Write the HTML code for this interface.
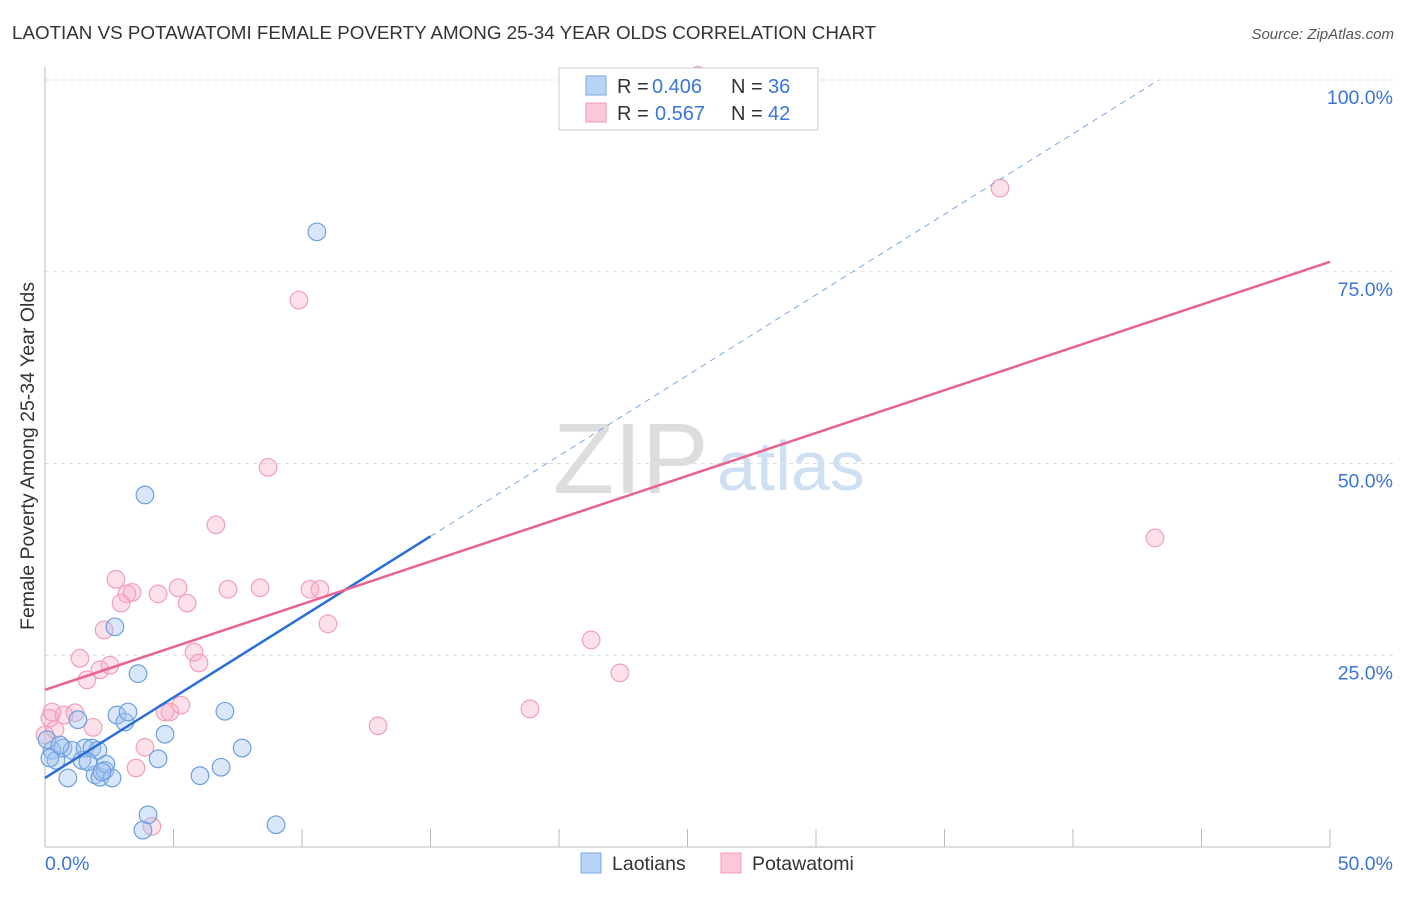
<!DOCTYPE html>
<html><head><meta charset="utf-8"><style>
body{margin:0;background:#fff;font-family:"Liberation Sans",sans-serif}
svg text{font-family:"Liberation Sans",sans-serif}
</style></head><body>
<svg id="c" width="1406" height="892" viewBox="0 0 1406 892">
<text x="12" y="39" font-size="18.8" fill="#333">LAOTIAN VS POTAWATOMI FEMALE POVERTY AMONG 25-34 YEAR OLDS CORRELATION CHART</text>
<text x="1394" y="39" font-size="15" fill="#555" font-style="italic" text-anchor="end">Source: ZipAtlas.com</text>
<g>
<text x="553" y="493" font-size="100" font-family="Liberation Serif" fill="#ddd">ZIP</text>
<text x="717" y="490" font-size="70" fill="#cfe0f3">atlas</text>
</g>
<g id="grid"></g>
<g id="marks"></g>
<text transform="translate(34,456) rotate(-90)" font-size="19.5" fill="#333" text-anchor="middle">Female Poverty Among 25-34 Year Olds</text>
<g>
<rect x="559" y="68" width="259" height="62" fill="#fff" stroke="#ccc"/>
<rect x="586" y="76" width="20" height="19" fill="#b8d3f5" stroke="#7aa7e6"/>
<rect x="586" y="103" width="20" height="19" fill="#fcc8d8" stroke="#f09ab4"/>
<text x="617" y="93" font-size="20" fill="#333">R =</text>
<text x="652" y="93" font-size="20" fill="#3a76d8">0.406</text>
<text x="731" y="93" font-size="20" fill="#333">N =</text>
<text x="768" y="93" font-size="20" fill="#3a76d8">36</text>
<text x="617" y="120" font-size="20" fill="#333">R =</text>
<text x="655" y="120" font-size="20" fill="#3a76d8">0.567</text>
<text x="731" y="120" font-size="20" fill="#333">N =</text>
<text x="768" y="120" font-size="20" fill="#3a76d8">42</text>
</g>
<g>
<rect x="581" y="853" width="20" height="20" fill="#b8d3f5" stroke="#7aa7e6"/>
<text x="612" y="870" font-size="19.5" fill="#333">Laotians</text>
<rect x="721" y="853" width="20" height="20" fill="#fcc8d8" stroke="#f09ab4"/>
<text x="752" y="870" font-size="19.5" fill="#333">Potawatomi</text>
</g>
</svg>
<script>
const blueX=[.27,.43,.70,.89,1.05,1.28,1.44,1.56,1.83,1.95,2.06,2.14,2.33,2.37,2.61,2.72,2.80,3.11,3.23,3.62,3.89,4.01,3.81,4.40,4.67,6.03,6.85,7.00,7.67,8.99,10.58,.19,.08,.58,1.67,2.22];
const blueY=[12.6,11.3,12.9,9.0,12.6,16.6,11.3,12.9,12.9,9.4,12.6,9.1,10.0,10.8,9.0,28.7,17.2,16.3,17.6,22.6,45.9,4.2,2.2,11.5,14.7,9.3,10.4,17.7,12.9,2.9,80.2,11.6,14.0,13.3,11.1,9.8];
const pinkX=[.19,.39,.74,1.17,1.36,1.63,1.87,2.14,2.30,2.53,2.76,2.96,3.19,3.39,3.54,3.89,4.16,4.40,4.67,4.86,5.18,5.29,5.53,5.80,5.99,6.65,7.12,8.37,8.68,9.88,10.31,10.70,11.01,12.96,18.87,21.25,22.37,37.16,43.19,0,.27,25.4];
const pinkY=[16.8,15.3,17.2,17.5,24.6,21.8,15.6,23.1,28.3,23.7,34.9,31.8,33.0,33.2,10.3,13.0,2.7,33.0,17.6,17.6,33.8,18.5,31.8,25.4,24.0,42.0,33.6,33.8,49.5,71.3,33.6,33.6,29.1,15.8,18.0,27.0,22.7,85.9,40.3,14.6,17.6,100.6];
const blueLine=[9.0,2.1];
const pinkLine=[20.5,1.116];
const yTicks=[25,50,75,100];
const yTickLabels=["25.0%","50.0%","75.0%","100.0%"];
const xTicks=[0,5,10,15,20,25,30,35,40,45,50];
const NS="http://www.w3.org/2000/svg";
const X=v=>45+v*25.7, Y=v=>847-v*7.67;
function mk(p,t,a){const e=document.createElementNS(NS,t);for(const k in a)e.setAttribute(k,a[k]);p.appendChild(e);return e;}
const g=document.getElementById('grid'),m=document.getElementById('marks');
yTicks.forEach((t,i)=>{
 const l=mk(g,'line',{x1:45,x2:1394,y1:Y(t),y2:Y(t),stroke:'#ddd','stroke-dasharray':'4,4'});
 
 
 const tx=mk(g,'text',{x:1393,y:Y(t)+24,'font-size':19.5,fill:'#3a76d8','text-anchor':'end'});tx.textContent=yTickLabels[i];
 
 
});
const ya=mk(g,'line',{x1:45,x2:45,y1:67,y2:847,stroke:'#bbb'});


const xa=mk(g,'line',{x1:45,x2:1330,y1:847,y2:847,stroke:'#bbb'});


xTicks.forEach(t=>{const l=mk(g,'line',{x1:X(t),x2:X(t),y1:829,y2:847,stroke:'#bbb'});
 
 });
const xl0=mk(g,'text',{x:45,y:870,'font-size':19.5,fill:'#3a76d8'});xl0.textContent="0.0%";


const xl1=mk(g,'text',{x:1393,y:870,'font-size':19.5,fill:'#3a76d8','text-anchor':'end'});xl1.textContent="50.0%";


pinkX.forEach((x,i)=>{const c=mk(m,'circle',{cx:X(x),cy:Y(pinkY[i]),r:8.8,fill:'rgba(248,170,195,0.35)',stroke:'#f0a0b8','stroke-width':1.2});
 
 });
blueX.forEach((x,i)=>{const c=mk(m,'circle',{cx:X(x),cy:Y(blueY[i]),r:8.8,fill:'rgba(160,195,240,0.4)',stroke:'#6f9fe0','stroke-width':1.2});
 
 });
const bx1=15, bxe=(100-blueLine[0])/blueLine[1];
const bl=mk(m,'line',{x1:X(0),y1:Y(blueLine[0]),x2:X(bx1),y2:Y(blueLine[0]+blueLine[1]*bx1),stroke:'#2a6fd6','stroke-width':2.5});


const bd=mk(m,'line',{x1:X(bx1),y1:Y(blueLine[0]+blueLine[1]*bx1),x2:X(bxe),y2:Y(100),stroke:'#7aa7e6','stroke-width':1,'stroke-dasharray':'6,5'});


const pl=mk(m,'line',{x1:X(0),y1:Y(pinkLine[0]),x2:X(50),y2:Y(pinkLine[0]+pinkLine[1]*50),stroke:'#e8638f','stroke-width':2.5});


</script>
</body></html>
